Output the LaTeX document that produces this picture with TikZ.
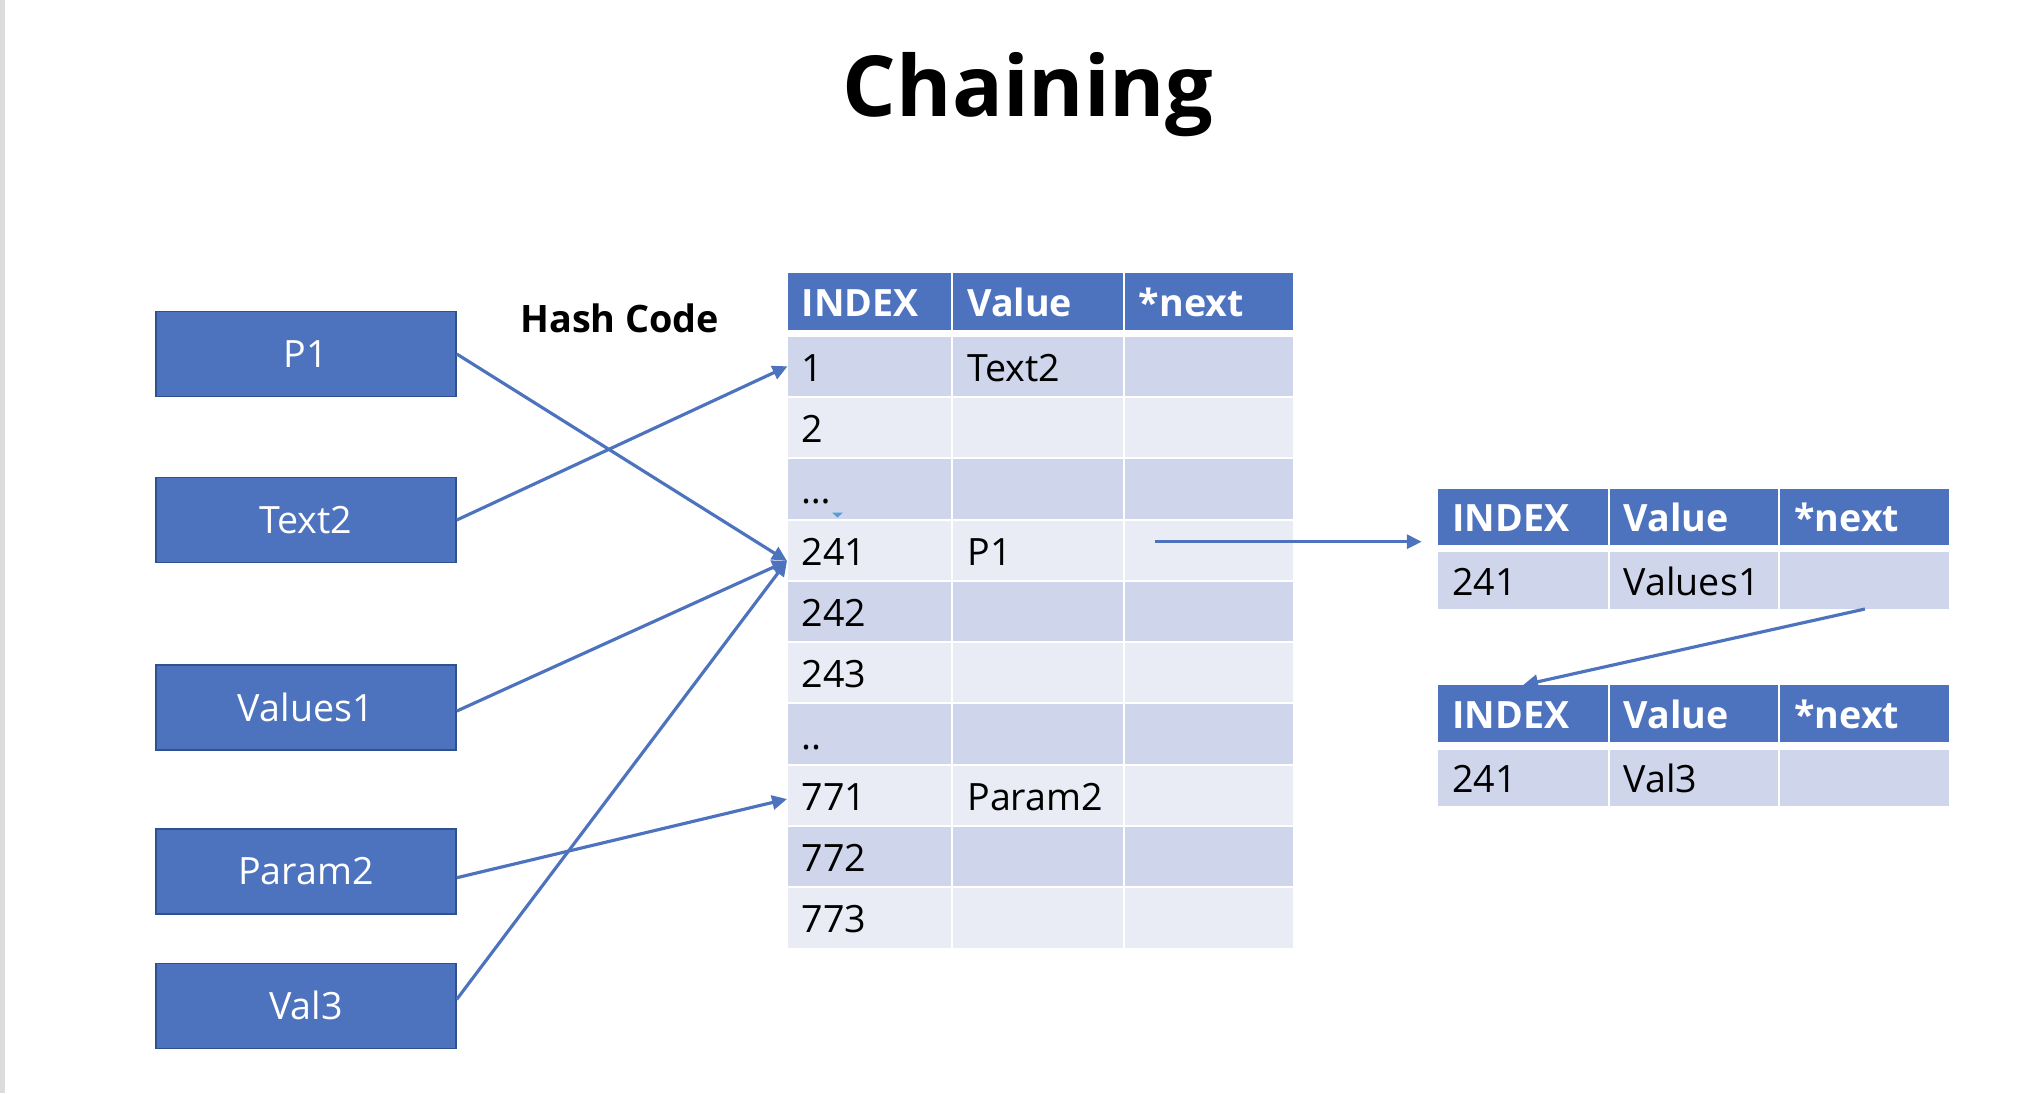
\documentclass[tikz,border=0pt]{standalone}
\usepackage{fontspec}
\setmainfont{Open Sans}
\usetikzlibrary{arrows.meta}
\newlength\pxu
\setlength\pxu{0.02cm}
\definecolor{accent}{HTML}{4E73BE}
\definecolor{accentdark}{HTML}{2F528F}
\definecolor{rowdark}{HTML}{CFD5EA}
\definecolor{rowlight}{HTML}{E9EBF5}
\definecolor{tipblue}{HTML}{5B9BD5}
\definecolor{edgegray}{HTML}{DCDCDC}
\begin{document}
\begin{tikzpicture}[x=0.02cm, y=-0.02cm,
  key/.style={draw=accentdark, line width=1.1pt, fill=accent, text=white, inner sep=0pt, minimum width=300\pxu, minimum height=85\pxu, text height=15.3pt, text depth=0pt, font=\fontsize{21.4}{24}\selectfont},
  cell/.style={anchor=north west, inner xsep=14\pxu, inner ysep=0pt, minimum height=59.3\pxu, text height=17pt, text depth=0pt, align=left, font=\fontsize{21.4}{24}\selectfont},
  headcell/.style={cell, fill=accent, text=white, minimum height=57\pxu, font=\bfseries\fontsize{21.4}{24}\selectfont},
  link/.style={draw=accent, line width=1.8pt, -{Triangle[length=8.5pt,width=8pt]}}]
\fill[white] (0,0) rectangle (2017,1093);
\useasboundingbox (0,0) rectangle (2017,1093);
\fill[edgegray] (0,0) rectangle (5,1093);

\node[font=\bfseries\fontsize{48}{58}\selectfont, anchor=base] (title) at (1028,116.7) {Chaining};
\node[font=\bfseries\fontsize{21.5}{26}\selectfont, anchor=base west, inner sep=0pt] (hash) at (520,332.7) {Hash Code};

\node[key] (p1) at (305.8,354) {P1};
\node[key] (text2) at (305.8,520) {Text2};
\node[key] (values1) at (305.8,707.7) {Values1};
\node[key] (param2) at (305.8,871.2) {Param2};
\node[key] (val3) at (305.8,1006) {Val3};

\node[headcell, text width=135.5\pxu] (ha) at (787.5,272.3) {INDEX};
\node[headcell, text width=141.5\pxu] (hb) at (953,272.3) {Value};
\node[headcell, text width=140.5\pxu] (hc) at (1124.5,272.3) {*next};
\foreach \idx/\val [count=\k from 0] in {1/Text2, 2/, {\ldots}/, 241/P1, 242/, 243/, {..}/, 771/Param2, 772/, 773/} {
  \pgfmathsetmacro\ytop{336.3+61.3*\k}
  \ifodd\k \def\rc{rowlight}\else\def\rc{rowdark}\fi
  \node[cell, fill=\rc, text width=135.5\pxu] (a\k) at (787.5,\ytop) {\idx};
  \node[cell, fill=\rc, text width=141.5\pxu] (b\k) at (953,\ytop) {\val};
  \node[cell, fill=\rc, text width=140.5\pxu] (c\k) at (1124.5,\ytop) {};
}

\foreach \t/\yh/\yr/\v in {1/488.3/551.7/Values1, 2/685/749.3/Val3} {
  \node[headcell, minimum height=56.7\pxu, text width=141.5\pxu] (rha\t) at (1438,\yh) {INDEX};
  \node[headcell, minimum height=56.7\pxu, text width=140.5\pxu] (rhb\t) at (1609.5,\yh) {Value};
  \node[headcell, minimum height=56.7\pxu, text width=141\pxu] (rhc\t) at (1780,\yh) {*next};
  \node[cell, fill=rowdark, minimum height=56.6\pxu, text width=141.5\pxu] (ra\t) at (1438,\yr) {241};
  \node[cell, fill=rowdark, minimum height=56.6\pxu, text width=140.5\pxu] (rb\t) at (1609.5,\yr) {\v};
  \node[cell, fill=rowdark, minimum height=56.6\pxu, text width=141\pxu] (rc\t) at (1780,\yr) {};
}

\fill[tipblue] (832,512.5) -- (843,512.5) -- (837.5,517.5) -- cycle;

\coordinate (hit241) at (787,561);
\coordinate (hit771) at (787,799);
\coordinate (nextp) at (1155,541.7);
\coordinate (into) at (1421.7,541.7);
\draw[link] (p1.east) -- (hit241);
\draw[link] (text2.east) -- (a0.west);
\draw[link] ([yshift=-1.9pt]values1.east) -- (hit241);
\draw[link] ([yshift=-3.7pt]param2.east) -- (hit771);
\draw[link] ([yshift=3.8pt]val3.east) -- (hit241);
\draw[link] (nextp) -- (into);
\draw[link] (rc1.south) -- (rha2.north);
\end{tikzpicture}
\end{document}
